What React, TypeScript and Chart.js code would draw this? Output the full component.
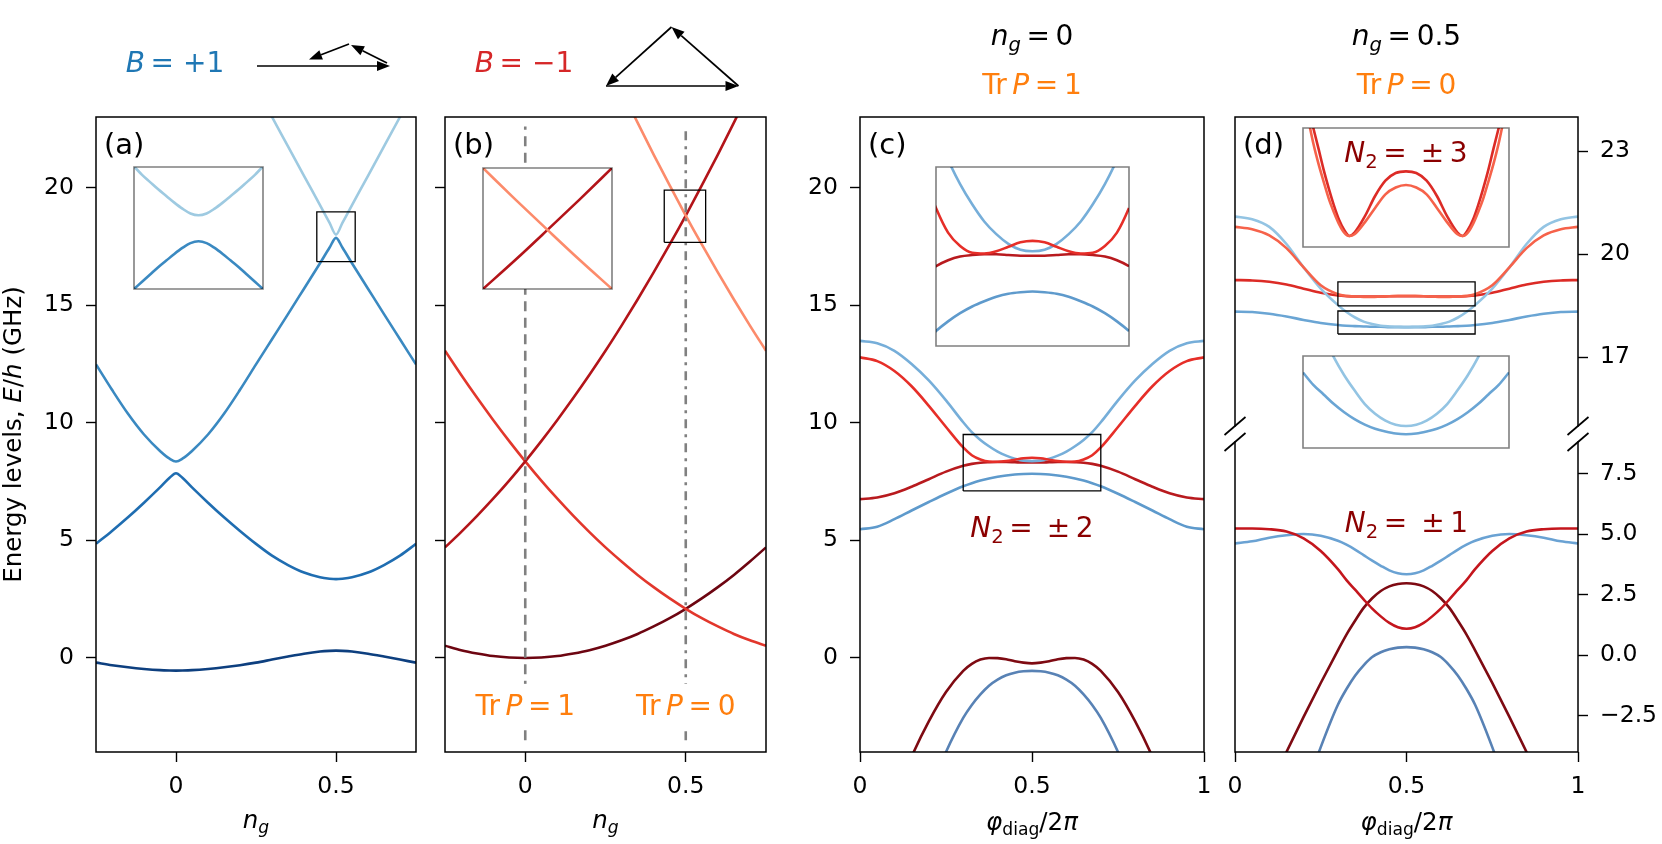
import React, { useEffect, useRef } from 'react';
import { Chart, registerables } from 'chart.js';

Chart.register(...registerables);

const W = 1662;
const H = 844;
const FF = '"DejaVu Sans", "Liberation Sans", sans-serif';

// ---------------- data ----------------
// Panel (a): B = +1, energy levels vs n_g
const ngA = [-0.25, -0.2, -0.15, -0.1, -0.05, -0.02, 0, 0.02, 0.05, 0.1, 0.15, 0.2, 0.25, 0.3, 0.35, 0.4, 0.45, 0.48, 0.5, 0.52, 0.55, 0.6, 0.65, 0.7, 0.75];
const a1 = [-0.2, -0.31, -0.4, -0.47, -0.52, -0.535, -0.54, -0.535, -0.52, -0.47, -0.4, -0.31, -0.2, -0.07, 0.06, 0.18, 0.27, 0.3, 0.31, 0.3, 0.27, 0.18, 0.06, -0.07, -0.2];
const a2 = [4.85, 5.4, 5.98, 6.6, 7.25, 7.66, 7.85, 7.66, 7.25, 6.6, 5.98, 5.4, 4.85, 4.35, 3.95, 3.63, 3.43, 3.37, 3.35, 3.37, 3.43, 3.63, 3.95, 4.35, 4.85];
const a3 = [12.48, 11.4, 10.38, 9.5, 8.8, 8.47, 8.35, 8.47, 8.8, 9.5, 10.38, 11.4, 12.48, 13.55, 14.62, 15.7, 16.78, 17.45, 17.86, 17.45, 16.78, 15.7, 14.62, 13.55, 12.48];
const ngA4 = [0.25, 0.3, 0.35, 0.4, 0.45, 0.48, 0.5, 0.52, 0.55, 0.6, 0.65, 0.7, 0.75];
const a4 = [24.25, 23.0, 21.75, 20.5, 19.25, 18.5, 18.0, 18.5, 19.25, 20.5, 21.75, 23.0, 24.25];
const rectAx = [0.44, 0.56];
const rectAy = [16.85, 18.97];
// inset (a)
const inAx = [0.44, 0.4475, 0.455, 0.4625, 0.47, 0.4775, 0.485, 0.4925, 0.5, 0.5075, 0.515, 0.5225, 0.53, 0.5375, 0.545, 0.5525, 0.56];
const inAl = [18.97, 18.83, 18.71, 18.59, 18.48, 18.37, 18.27, 18.19, 18.16, 18.19, 18.27, 18.37, 18.48, 18.59, 18.71, 18.83, 18.97];
const inAd = [16.94, 17.06, 17.18, 17.3, 17.41, 17.52, 17.62, 17.7, 17.73, 17.7, 17.62, 17.52, 17.41, 17.3, 17.18, 17.06, 16.94];

// Panel (b): B = -1
const ngB = [-0.25, -0.2, -0.15, -0.1, -0.05, 0, 0.05, 0.1, 0.15, 0.2, 0.25, 0.3, 0.35, 0.4, 0.45, 0.5, 0.55, 0.6, 0.65, 0.7, 0.75];
const b1 = [0.52, 0.33, 0.19, 0.08, 0.02, 0, 0.02, 0.08, 0.19, 0.33, 0.52, 0.75, 1.02, 1.34, 1.69, 2.09, 2.53, 3.01, 3.53, 4.1, 4.7];
const b2 = [13.06, 12.04, 11.06, 10.12, 9.22, 8.36, 7.54, 6.77, 6.04, 5.35, 4.7, 4.1, 3.53, 3.01, 2.53, 2.09, 1.69, 1.34, 1.02, 0.75, 0.52];
const b3 = [4.7, 5.35, 6.04, 6.77, 7.54, 8.36, 9.22, 10.12, 11.06, 12.04, 13.06, 14.13, 15.24, 16.39, 17.58, 18.81, 20.09, 21.4, 22.76, 24.15, 25.6];
const ngB4 = [0.25, 0.3, 0.35, 0.4, 0.45, 0.5, 0.55, 0.6, 0.65, 0.7, 0.75];
const b4 = [25.6, 24.15, 22.76, 21.4, 20.09, 18.81, 17.58, 16.39, 15.24, 14.13, 13.06];
const vLineX = [0, 0.5];
const vLineY = [-3.5, 22.6];
const trPy = -2.42;
const rectBx = [0.433, 0.562];
const rectBy = [17.67, 19.89];
// inset (b)
const inBx = [0.44, 0.47, 0.5, 0.53, 0.56];
const inB3 = [17.34, 18.06, 18.81, 19.57, 20.35];
const inB4 = [20.35, 19.57, 18.81, 18.06, 17.34];

// Panels (c), (d): levels vs phi_diag / 2pi
const phiX = [0, 0.05, 0.1, 0.15, 0.2, 0.25, 0.3, 0.325, 0.35, 0.375, 0.4, 0.425, 0.45, 0.475, 0.5, 0.525, 0.55, 0.575, 0.6, 0.625, 0.65, 0.675, 0.7, 0.75, 0.8, 0.85, 0.9, 0.95, 1];
// (c) n_g = 0
const cL = [13.48, 13.38, 13.06, 12.5, 11.8, 10.95, 10.02, 9.6, 9.27, 9.0, 8.77, 8.6, 8.47, 8.39, 8.37, 8.39, 8.47, 8.6, 8.77, 9.0, 9.27, 9.6, 10.02, 10.95, 11.8, 12.5, 13.06, 13.38, 13.48];
const cR1 = [12.78, 12.62, 12.2, 11.55, 10.72, 9.82, 8.95, 8.62, 8.44, 8.35, 8.34, 8.37, 8.43, 8.49, 8.51, 8.49, 8.43, 8.37, 8.34, 8.35, 8.44, 8.62, 8.95, 9.82, 10.72, 11.55, 12.2, 12.62, 12.78];
const cR2 = [6.75, 6.82, 7.0, 7.28, 7.6, 7.92, 8.17, 8.25, 8.3, 8.32, 8.33, 8.33, 8.32, 8.31, 8.31, 8.31, 8.32, 8.33, 8.33, 8.32, 8.3, 8.25, 8.17, 7.92, 7.6, 7.28, 7.0, 6.82, 6.75];
const cB2 = [5.47, 5.58, 5.9, 6.27, 6.63, 6.98, 7.3, 7.43, 7.54, 7.63, 7.7, 7.76, 7.8, 7.82, 7.83, 7.82, 7.8, 7.76, 7.7, 7.63, 7.54, 7.43, 7.3, 6.98, 6.63, 6.27, 5.9, 5.58, 5.47];
const cR3 = [-9.0, -7.8, -6.0, -4.2, -2.7, -1.45, -0.55, -0.25, -0.07, 0.0, -0.01, -0.06, -0.14, -0.2, -0.23, -0.2, -0.14, -0.06, -0.01, 0.0, -0.07, -0.25, -0.55, -1.45, -2.7, -4.2, -6.0, -7.8, -9.0];
const cB3 = [-11.0, -10.4, -9.2, -7.6, -5.8, -4.0, -2.55, -2.0, -1.55, -1.18, -0.92, -0.74, -0.63, -0.57, -0.55, -0.57, -0.63, -0.74, -0.92, -1.18, -1.55, -2.0, -2.55, -4.0, -5.8, -7.6, -9.2, -10.4, -11.0];
const rectCx = [0.3, 0.7];
const rectCy = [7.1, 9.5];
const n2cY = 5.14;
// (d) n_g = 0.5, upper part
const dL = [21.1, 21.02, 20.8, 20.3, 19.62, 19.0, 18.52, 18.32, 18.16, 18.04, 17.97, 17.92, 17.9, 17.89, 17.88, 17.89, 17.9, 17.92, 17.97, 18.04, 18.16, 18.32, 18.52, 19.0, 19.62, 20.3, 20.8, 21.02, 21.1];
const dS = [20.8, 20.73, 20.55, 20.18, 19.62, 19.1, 18.84, 18.79, 18.77, 18.76, 18.76, 18.77, 18.78, 18.79, 18.79, 18.79, 18.78, 18.77, 18.76, 18.76, 18.77, 18.79, 18.84, 19.1, 19.62, 20.18, 20.55, 20.73, 20.8];
const dR = [19.25, 19.24, 19.2, 19.12, 19.0, 18.88, 18.8, 18.78, 18.77, 18.77, 18.77, 18.77, 18.78, 18.78, 18.78, 18.78, 18.78, 18.77, 18.77, 18.77, 18.77, 18.78, 18.8, 18.88, 19.0, 19.12, 19.2, 19.24, 19.25];
const dM = [18.33, 18.32, 18.27, 18.19, 18.09, 18.0, 17.94, 17.92, 17.91, 17.9, 17.89, 17.89, 17.88, 17.88, 17.88, 17.88, 17.88, 17.89, 17.89, 17.9, 17.91, 17.92, 17.94, 18.0, 18.09, 18.19, 18.27, 18.32, 18.33];
const rectD1x = [0.3, 0.7];
const rectD1y = [18.5, 19.2];
const rectD2x = [0.3, 0.7];
const rectD2y = [17.68, 18.35];
// (d) lower part
const dLr = [5.23, 5.23, 5.2, 5.1, 4.82, 4.3, 3.55, 3.1, 2.7, 2.3, 1.92, 1.6, 1.33, 1.15, 1.09, 1.15, 1.33, 1.6, 1.92, 2.3, 2.7, 3.1, 3.55, 4.3, 4.82, 5.1, 5.2, 5.23, 5.23];
const dLb = [4.61, 4.7, 4.85, 4.95, 5.0, 4.93, 4.72, 4.56, 4.36, 4.13, 3.9, 3.69, 3.5, 3.38, 3.34, 3.38, 3.5, 3.69, 3.9, 4.13, 4.36, 4.56, 4.72, 4.93, 5.0, 4.95, 4.85, 4.7, 4.61];
const dLm = [-8.3, -7.0, -5.5, -4.0, -2.55, -1.15, 0.2, 0.85, 1.42, 1.95, 2.35, 2.65, 2.84, 2.94, 2.97, 2.94, 2.84, 2.65, 2.35, 1.95, 1.42, 0.85, 0.2, -1.15, -2.55, -4.0, -5.5, -7.0, -8.3];
const dLbb = [-11.5, -10.5, -9.3, -7.7, -5.8, -3.8, -2.05, -1.4, -0.85, -0.42, -0.08, 0.12, 0.24, 0.31, 0.33, 0.31, 0.24, 0.12, -0.08, -0.42, -0.85, -1.4, -2.05, -3.8, -5.8, -7.7, -9.3, -10.5, -11.5];
const n2dY = 5.08;
// inset (d) upper
const inD1x = [0.3, 0.31, 0.32, 0.33, 0.34, 0.35, 0.36, 0.37, 0.38, 0.39, 0.4, 0.42, 0.44, 0.46, 0.48, 0.5, 0.52, 0.54, 0.56, 0.58, 0.6, 0.61, 0.62, 0.63, 0.64, 0.65, 0.66, 0.67, 0.68, 0.69, 0.7];
const inD1r = [18.889, 18.864, 18.84, 18.816, 18.791, 18.769, 18.749, 18.732, 18.72, 18.713, 18.717, 18.736, 18.76, 18.778, 18.787, 18.789, 18.787, 18.778, 18.76, 18.736, 18.717, 18.713, 18.72, 18.732, 18.749, 18.769, 18.791, 18.816, 18.84, 18.864, 18.889];
const inD1s = [18.882, 18.851, 18.822, 18.798, 18.777, 18.757, 18.741, 18.727, 18.717, 18.713, 18.715, 18.729, 18.746, 18.762, 18.77, 18.773, 18.77, 18.762, 18.746, 18.729, 18.715, 18.713, 18.717, 18.727, 18.741, 18.757, 18.777, 18.798, 18.822, 18.851, 18.882];
// inset (d) lower
const inD2x = [0.3, 0.32, 0.34, 0.36, 0.38, 0.4, 0.42, 0.44, 0.46, 0.48, 0.5, 0.52, 0.54, 0.56, 0.58, 0.6, 0.62, 0.64, 0.66, 0.68, 0.7];
const inD2l = [18.86, 18.67, 18.5, 18.34, 18.21, 18.1, 18.0, 17.93, 17.88, 17.85, 17.84, 17.85, 17.88, 17.93, 18.0, 18.1, 18.21, 18.34, 18.5, 18.67, 18.86];
const inD2m = [18.23, 18.14, 18.07, 18.0, 17.94, 17.89, 17.85, 17.82, 17.8, 17.785, 17.78, 17.785, 17.8, 17.82, 17.85, 17.89, 17.94, 18.0, 18.07, 18.14, 18.23];

// tick values
const xTicksNg = [0, 0.5];
const xTicksPhi = [0, 0.5, 1];
const yTicksMain = [0, 5, 10, 15, 20];
const yTicksDU = [17, 20, 23];
const yTicksDL = [-2.5, 0, 2.5, 5, 7.5];

// colours
const C = {
  a1: '#0d3f7f', a2: '#1f6db1', a3: '#3a89c1', a4: '#9ecae1',
  b1: '#6d0511', b2: '#e2372c', b3: '#b31419', b4: '#fc8b6b',
  cL: '#76aed9', cR1: '#e62e28', cR2: '#b81a1e', cB2: '#5e9acc', cR3: '#7e0a12', cB3: '#5882b5',
  dL: '#93c4e3', dS: '#f6624a', dR: '#dc2b26', dM: '#6aa5d4',
  dLr: '#c4161d', dLb: '#6aa2d3', dLm: '#7e0a12', dLbb: '#5882b5',
  blue: '#1f77b4', red: '#d62728', orange: '#ff7f0e', dark: '#8b0000', gray: '#808080',
};

// ---------------- helpers ----------------
function line(xs: number[], ys: number[], color: string, extra: any = {}) {
  return {
    data: xs.map((x, i) => ({ x, y: ys[i] })),
    borderColor: color,
    backgroundColor: color,
    borderWidth: 2.6,
    pointRadius: 0,
    pointHoverRadius: 0,
    cubicInterpolationMode: 'monotone',
    fill: false,
    clip: 0,
    ...extra,
  };
}
function rectLine(rx: number[], ry: number[]) {
  return {
    data: [
      { x: rx[0], y: ry[0] }, { x: rx[1], y: ry[0] }, { x: rx[1], y: ry[1] },
      { x: rx[0], y: ry[1] }, { x: rx[0], y: ry[0] },
    ],
    borderColor: '#000', borderWidth: 1.3, pointRadius: 0, tension: 0, fill: false, clip: 0,
  };
}

type Seg = [string, string];
function segFont(st: string, size: number) {
  const sub = st === 's' || st === 'si';
  const it = st === 'i' || st === 'si';
  return `${it ? 'italic ' : ''}${sub ? size * 0.7 : size}px ${FF}`;
}
function drawSegs(ctx: any, segs: Seg[], x: number, y: number, size: number, color: string, align = 'center') {
  let w = 0;
  for (const [t, st] of segs) { ctx.font = segFont(st, size); w += ctx.measureText(t).width; }
  let cx = align === 'center' ? x - w / 2 : align === 'right' ? x - w : x;
  ctx.fillStyle = color;
  ctx.textAlign = 'left';
  ctx.textBaseline = 'alphabetic';
  for (const [t, st] of segs) {
    ctx.font = segFont(st, size);
    const dy = st === 's' || st === 'si' ? size * 0.2 : 0;
    ctx.fillText(t, cx, y + dy);
    cx += ctx.measureText(t).width;
  }
  return w;
}
function arrow(ctx: any, x1: number, y1: number, x2: number, y2: number) {
  const hl = 13, hw = 5;
  const a = Math.atan2(y2 - y1, x2 - x1);
  const bx = x2 - hl * Math.cos(a), by = y2 - hl * Math.sin(a);
  ctx.beginPath(); ctx.moveTo(x1, y1); ctx.lineTo(bx, by); ctx.stroke();
  ctx.beginPath();
  ctx.moveTo(x2, y2);
  ctx.lineTo(bx + hw * Math.sin(a), by - hw * Math.cos(a));
  ctx.lineTo(bx - hw * Math.sin(a), by + hw * Math.cos(a));
  ctx.closePath(); ctx.fill();
}
function slash(ctx: any, cx: number, cy: number) {
  ctx.beginPath(); ctx.moveTo(cx - 10.5, cy + 9); ctx.lineTo(cx + 10.5, cy - 9); ctx.stroke();
}
function panelLabel(ctx: any, a: any, t: string) {
  ctx.font = `29px ${FF}`; ctx.fillStyle = '#000'; ctx.textAlign = 'left'; ctx.textBaseline = 'alphabetic';
  ctx.fillText(t, a.left + 8, a.top + 37);
}

const SEG_NG: Seg[] = [['n', 'i'], ['g', 'si']];
const SEG_PHI: Seg[] = [['\u03c6', 'i'], ['diag', 's'], ['/2', 'r'], ['\u03c0', 'i']];
const SEG_Y: Seg[] = [['Energy levels, ', 'r'], ['E', 'i'], ['/', 'r'], ['h', 'i'], [' (GHz)', 'r']];
const trP = (v: string): Seg[] => [['Tr\u2009', 'r'], ['P', 'i'], ['\u2009=\u2009' + v, 'r']];
const ngEq = (v: string): Seg[] => [['n', 'i'], ['g', 'si'], ['\u2009=\u2009' + v, 'r']];
const n2Eq = (v: string): Seg[] => [['N', 'i'], ['2', 's'], ['\u2009=\u2002\u00b1\u2009' + v, 'r']];

interface Opts {
  area: { l: number; t: number; r: number; b: number };
  x: { min: number; max: number; ticks?: number[] };
  y: { min: number; max: number; ticks?: number[]; fmt?: (v: number) => string; pos?: string };
  datasets: any[];
  spines: { l: boolean; r: boolean; t: boolean; b: boolean };
  spineColor?: string;
  spineWidth?: number;
  bg?: string;
  draw?: (chart: any, ctx: any) => void;
}

function makeConfig(o: Opts): any {
  const YW = 96, YWR = 84, XH = 92;
  const hasX = !!o.x.ticks, hasY = !!o.y.ticks;
  const yRight = o.y.pos === 'right';
  const padding = {
    left: hasY && !yRight ? o.area.l - YW : o.area.l,
    right: hasY && yRight ? W - o.area.r - YWR : W - o.area.r,
    top: o.area.t,
    bottom: hasX ? H - o.area.b - XH : H - o.area.b,
  };
  const tickFont = { family: FF, size: 23.5 };
  const grid = { display: true, drawOnChartArea: false, drawTicks: true, tickLength: 10, tickWidth: 1.4, tickColor: '#000' };
  return {
    type: 'line',
    data: { datasets: o.datasets },
    options: {
      responsive: false,
      animation: false,
      devicePixelRatio: 1,
      events: [],
      layout: { padding },
      plugins: { legend: { display: false }, tooltip: { enabled: false }, title: { display: false } },
      scales: {
        x: {
          type: 'linear', min: o.x.min, max: o.x.max, display: hasX,
          afterFit: (s: any) => { if (hasX) s.height = XH; },
          afterBuildTicks: (s: any) => { if (o.x.ticks) s.ticks = o.x.ticks.map((v) => ({ value: v })); },
          ticks: { autoSkip: false, maxRotation: 0, minRotation: 0, padding: 11, color: '#000', font: tickFont, callback: (v: any) => String(v) },
          grid, border: { display: false },
        },
        y: {
          type: 'linear', min: o.y.min, max: o.y.max, display: hasY, position: yRight ? 'right' : 'left',
          afterFit: (s: any) => { if (hasY) s.width = yRight ? YWR : YW; },
          afterBuildTicks: (s: any) => { if (o.y.ticks) s.ticks = o.y.ticks.map((v) => ({ value: v })); },
          ticks: { autoSkip: false, padding: 12, color: '#000', font: tickFont, callback: (v: any) => (o.y.fmt ? o.y.fmt(v) : String(v)) },
          grid, border: { display: false },
        },
      },
    },
    plugins: [
      {
        id: 'deco',
        beforeDraw(chart: any) {
          if (!o.bg) return;
          const { ctx, chartArea: a } = chart;
          ctx.save(); ctx.fillStyle = o.bg; ctx.fillRect(a.left, a.top, a.right - a.left, a.bottom - a.top); ctx.restore();
        },
        afterDatasetsDraw(chart: any) {
          const { ctx, chartArea: a } = chart;
          ctx.save();
          ctx.strokeStyle = o.spineColor || '#000';
          ctx.lineWidth = o.spineWidth || 1.5;
          ctx.lineCap = 'square';
          ctx.beginPath();
          if (o.spines.l) { ctx.moveTo(a.left, a.top); ctx.lineTo(a.left, a.bottom); }
          if (o.spines.r) { ctx.moveTo(a.right, a.top); ctx.lineTo(a.right, a.bottom); }
          if (o.spines.t) { ctx.moveTo(a.left, a.top); ctx.lineTo(a.right, a.top); }
          if (o.spines.b) { ctx.moveTo(a.left, a.bottom); ctx.lineTo(a.right, a.bottom); }
          ctx.stroke();
          ctx.restore();
          if (o.draw) { ctx.save(); o.draw(chart, ctx); ctx.restore(); }
        },
      },
    ],
  };
}

const ALL = { l: true, r: true, t: true, b: true };
const INSET = { spines: ALL, spineColor: 'rgba(0,0,0,0.5)', spineWidth: 1.6, bg: '#ffffff' };

function configs(): any[] {
  const cfgA = makeConfig({
    area: { l: 96, t: 117, r: 416, b: 752 },
    x: { min: -0.25, max: 0.75, ticks: xTicksNg },
    y: { min: -4, max: 23, ticks: yTicksMain },
    datasets: [rectLine(rectAx, rectAy), line(ngA4, a4, C.a4), line(ngA, a3, C.a3), line(ngA, a2, C.a2), line(ngA, a1, C.a1)],
    spines: ALL,
    draw: (chart, ctx) => {
      const a = chart.chartArea;
      panelLabel(ctx, a, '(a)');
      drawSegs(ctx, SEG_NG, (a.left + a.right) / 2, 828, 24.5, '#000');
      ctx.save(); ctx.translate(21, (a.top + a.bottom) / 2); ctx.rotate(-Math.PI / 2);
      drawSegs(ctx, SEG_Y, 0, 0, 24.5, '#000'); ctx.restore();
      drawSegs(ctx, [['B', 'i'], ['\u2009= +1', 'r']], 175, 72, 28, C.blue);
      ctx.strokeStyle = '#000'; ctx.fillStyle = '#000'; ctx.lineWidth = 1.7;
      arrow(ctx, 257, 66, 390, 66);
      arrow(ctx, 387, 63, 351, 45);
      arrow(ctx, 349, 44, 309, 59.5);
    },
  });
  const cfgB = makeConfig({
    area: { l: 445, t: 117, r: 766, b: 752 },
    x: { min: -0.25, max: 0.75, ticks: xTicksNg },
    y: { min: -4, max: 23, ticks: yTicksMain, fmt: () => '' },
    datasets: [
      rectLine(rectBx, rectBy),
      line([vLineX[0], vLineX[0]], vLineY, C.gray, { borderDash: [10, 6.5], cubicInterpolationMode: 'default' }),
      line([vLineX[1], vLineX[1]], vLineY, C.gray, { borderDash: [9, 6, 3, 6], cubicInterpolationMode: 'default' }),
      line(ngB4, b4, C.b4), line(ngB, b3, C.b3), line(ngB, b2, C.b2), line(ngB, b1, C.b1),
    ],
    spines: ALL,
    draw: (chart, ctx) => {
      const a = chart.chartArea;
      const xs = chart.scales.x, ys = chart.scales.y;
      panelLabel(ctx, a, '(b)');
      drawSegs(ctx, SEG_NG, (a.left + a.right) / 2, 828, 24.5, '#000');
      const py = ys.getPixelForValue(trPy);
      [['1', vLineX[0]], ['0', vLineX[1]]].forEach(([v, xv]: any) => {
        const px = xs.getPixelForValue(xv);
        const w = 102;
        ctx.fillStyle = '#fff';
        ctx.fillRect(px - w / 2 - 5, py - 31, w + 10, 43);
        drawSegs(ctx, trP(v), px, py, 28, C.orange);
      });
      drawSegs(ctx, [['B', 'i'], ['\u2009= \u22121', 'r']], 524, 72, 28, C.red);
      ctx.strokeStyle = '#000'; ctx.fillStyle = '#000'; ctx.lineWidth = 1.7;
      arrow(ctx, 606, 86, 738.5, 86);
      arrow(ctx, 738.5, 86, 671.5, 27);
      arrow(ctx, 671.5, 27, 606, 86);
    },
  });
  const cfgC = makeConfig({
    area: { l: 860, t: 117, r: 1204, b: 752 },
    x: { min: 0, max: 1, ticks: xTicksPhi },
    y: { min: -4, max: 23, ticks: yTicksMain },
    datasets: [
      rectLine(rectCx, rectCy),
      line(phiX, cR1, C.cR1), line(phiX, cL, C.cL), line(phiX, cR2, C.cR2), line(phiX, cB2, C.cB2),
      line(phiX, cR3, C.cR3), line(phiX, cB3, C.cB3),
    ],
    spines: ALL,
    draw: (chart, ctx) => {
      const a = chart.chartArea;
      panelLabel(ctx, a, '(c)');
      drawSegs(ctx, SEG_PHI, (a.left + a.right) / 2, 830, 24.5, '#000');
      drawSegs(ctx, n2Eq('2'), chart.scales.x.getPixelForValue(0.5), chart.scales.y.getPixelForValue(n2cY), 28, C.dark);
      drawSegs(ctx, ngEq('0'), (a.left + a.right) / 2, 45, 28, '#000');
      drawSegs(ctx, trP('1'), (a.left + a.right) / 2, 94, 28, C.orange);
    },
  });
  const cfgDU = makeConfig({
    area: { l: 1235, t: 117, r: 1578, b: 426 },
    x: { min: 0, max: 1 },
    y: { min: 15, max: 24, ticks: yTicksDU, pos: 'right' },
    datasets: [
      rectLine(rectD1x, rectD1y), rectLine(rectD2x, rectD2y),
      line(phiX, dS, C.dS), line(phiX, dL, C.dL), line(phiX, dR, C.dR), line(phiX, dM, C.dM),
    ],
    spines: { l: true, r: true, t: true, b: false },
    draw: (chart, ctx) => {
      const a = chart.chartArea;
      panelLabel(ctx, a, '(d)');
      drawSegs(ctx, ngEq('0.5'), (a.left + a.right) / 2, 45, 28, '#000');
      drawSegs(ctx, trP('0'), (a.left + a.right) / 2, 94, 28, C.orange);
      ctx.strokeStyle = '#000'; ctx.lineWidth = 1.7;
      slash(ctx, a.left, a.bottom); slash(ctx, a.right, a.bottom);
    },
  });
  const cfgDL = makeConfig({
    area: { l: 1235, t: 442, r: 1578, b: 752 },
    x: { min: 0, max: 1, ticks: xTicksPhi },
    y: { min: -4, max: 8.8, ticks: yTicksDL, pos: 'right', fmt: (v) => (v < 0 ? '\u2212' : '') + Math.abs(v).toFixed(1) },
    datasets: [line(phiX, dLr, C.dLr), line(phiX, dLb, C.dLb), line(phiX, dLm, C.dLm), line(phiX, dLbb, C.dLbb)],
    spines: { l: true, r: true, t: false, b: true },
    draw: (chart, ctx) => {
      const a = chart.chartArea;
      drawSegs(ctx, SEG_PHI, (a.left + a.right) / 2, 830, 24.5, '#000');
      drawSegs(ctx, n2Eq('1'), chart.scales.x.getPixelForValue(0.5), chart.scales.y.getPixelForValue(n2dY), 28, C.dark);
      ctx.strokeStyle = '#000'; ctx.lineWidth = 1.7;
      slash(ctx, a.left, a.top); slash(ctx, a.right, a.top);
    },
  });
  const cfgInA = makeConfig({
    ...INSET,
    area: { l: 134, t: 167, r: 263, b: 289 },
    x: { min: 0.44, max: 0.56 }, y: { min: 16.94, max: 18.96 },
    datasets: [line(inAx, inAl, C.a4), line(inAx, inAd, C.a3)],
  });
  const cfgInB = makeConfig({
    ...INSET,
    area: { l: 483, t: 168, r: 612, b: 289 },
    x: { min: 0.44, max: 0.56 }, y: { min: 17.34, max: 20.35 },
    datasets: [line(inBx, inB4, C.b4), line(inBx, inB3, C.b3)],
  });
  const cfgInC = makeConfig({
    ...INSET,
    area: { l: 936, t: 167, r: 1129, b: 346 },
    x: { min: 0.3, max: 0.7 }, y: { min: 7.1, max: 9.5 },
    datasets: [line(phiX, cR1, C.cR1), line(phiX, cL, C.cL), line(phiX, cR2, C.cR2), line(phiX, cB2, C.cB2)],
  });
  const cfgInD1 = makeConfig({
    ...INSET,
    area: { l: 1303, t: 128, r: 1509, b: 247 },
    x: { min: 0.3, max: 0.7 }, y: { min: 18.7, max: 18.84 },
    datasets: [line(inD1x, inD1s, C.dS), line(inD1x, inD1r, C.dR)],
    draw: (chart, ctx) => {
      const a = chart.chartArea;
      drawSegs(ctx, n2Eq('3'), (a.left + a.right) / 2, a.top + 34, 28, C.dark);
    },
  });
  const cfgInD2 = makeConfig({
    ...INSET,
    area: { l: 1303, t: 356, r: 1509, b: 448 },
    x: { min: 0.3, max: 0.7 }, y: { min: 17.68, max: 18.35 },
    datasets: [line(inD2x, inD2l, C.dL), line(inD2x, inD2m, C.dM)],
  });
  return [cfgA, cfgB, cfgC, cfgDU, cfgDL, cfgInA, cfgInB, cfgInC, cfgInD1, cfgInD2];
}

export default function App() {
  const refs = useRef<(HTMLCanvasElement | null)[]>([]);
  useEffect(() => {
    const cfgs = configs();
    const charts = cfgs.map((c, i) => new Chart(refs.current[i] as HTMLCanvasElement, c));
    return () => charts.forEach((c) => c.destroy());
  }, []);
  return (
    <div style={{ position: 'fixed', left: 0, top: 0, width: W, height: H, background: '#ffffff', overflow: 'hidden' }}>
      {Array.from({ length: 10 }).map((_, i) => (
        <canvas
          key={i}
          ref={(el) => { refs.current[i] = el; }}
          width={W}
          height={H}
          style={{ position: 'absolute', left: 0, top: 0, width: W, height: H, pointerEvents: 'none' }}
        />
      ))}
    </div>
  );
}
